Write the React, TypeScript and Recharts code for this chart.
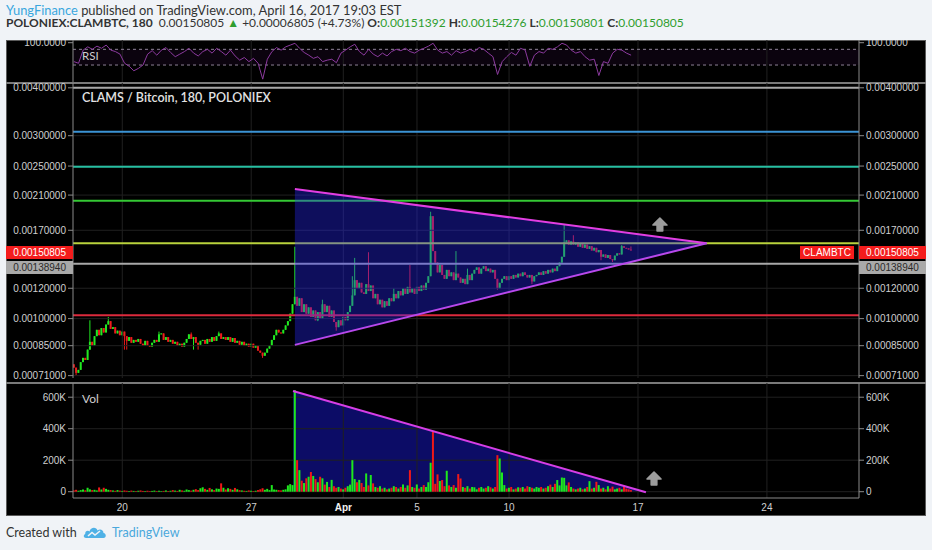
import React from "react";
import {
  ComposedChart,
  Bar,
  Line,
  Area,
  Scatter,
  XAxis,
  YAxis,
  ReferenceLine,
  ReferenceArea,
} from "recharts";

// ---------------- data ----------------
// time unit: day of March 2017 (Apr 1 = 32). 180-minute candles.
const CANDLE_START = 17.375;
const CANDLE_STEP = 0.125;
const FIRST_OPEN = 760; // micro-BTC

// closes in micro-BTC (1e-6 BTC)
const closes = [
  745, 722, 735, 770, 790, 780, 830, 870, 850, 900,
  935, 905, 945, 920, 965, 985, 940, 950, 915, 930,
  905, 925, 900, 875, 895, 865, 880, 870, 885, 860,
  850, 875, 850, 845, 865, 880, 870, 910, 915, 880,
  895, 870, 880, 860, 870, 850, 860, 845, 865, 885,
  910, 885, 895, 865, 855, 875, 880, 860, 885, 870,
  895, 875, 900, 915, 885, 895, 880, 895, 870, 890,
  865, 875, 855, 870, 850, 860, 845, 860, 840, 850,
  825, 815, 800, 815, 835, 850, 880, 905, 935, 920,
  915, 935, 960, 985, 1030, 1090, 1140, 1080, 1130, 1040,
  1090, 1030, 1070, 1010, 1050, 990, 1040, 1000, 1090, 1040,
  1080, 1010, 1050, 980, 950, 990, 960, 1010, 990, 1040,
  1080, 1150, 1260, 1200, 1240, 1170, 1160, 1230, 1180, 1220,
  1130, 1160, 1090, 1120, 1070, 1110, 1080, 1130, 1110, 1160,
  1130, 1180, 1150, 1200, 1160, 1210, 1170, 1200, 1160, 1210,
  1180, 1220, 1190, 1240, 1290, 1850, 1500, 1400, 1320, 1380,
  1300, 1270, 1340, 1290, 1320, 1260, 1310, 1280, 1240, 1270,
  1230, 1300, 1260, 1310, 1340, 1360, 1310, 1350, 1370, 1330,
  1350, 1320, 1340, 1270, 1200, 1240, 1270, 1290, 1260, 1290,
  1270, 1300, 1280, 1310, 1290, 1320, 1300, 1280, 1300, 1250,
  1290, 1300, 1320, 1300, 1330, 1310, 1340, 1320, 1350, 1330,
  1370, 1400, 1450, 1580, 1600, 1560, 1590, 1560, 1580, 1540,
  1570, 1530, 1560, 1520, 1545, 1505, 1530, 1490, 1510, 1450,
  1470, 1440, 1465, 1430, 1420, 1460, 1480, 1470, 1545, 1530,
  1525, 1513.92, 1508.05,
];

// notable wicks (candle index -> micro-BTC)
const wickHighs: Record<number, number> = {
  7: 990, 15: 1010, 37: 925, 51: 920, 63: 925, 96: 1540, 108: 1120, 121: 1290,
  122: 1440, 128: 1490, 139: 1200, 146: 1380, 155: 1900, 166: 1500, 171: 1350,
  213: 1755, 217: 1650, 238: 1555, 242: 1542.76,
};
const wickLows: Record<number, number> = {
  1: 712, 22: 830, 23: 830, 52: 830, 54: 830, 82: 790, 106: 985, 114: 930,
  184: 1190, 199: 1230, 229: 1420, 234: 1405,
};

// volume in thousands
const volumesK = [
  8, 12, 6, 10, 14, 9, 25, 15, 10, 12,
  8, 27, 14, 25, 18, 12, 10, 8, 6, 10,
  7, 5, 8, 6, 4, 7, 5, 3, 6, 8,
  5, 4, 6, 3, 5, 7, 4, 6, 3, 5,
  8, 4, 6, 10, 7, 5, 12, 8, 6, 14,
  10, 7, 12, 16, 10, 22, 28, 18, 12, 24,
  15, 10, 20, 18, 53, 25, 14, 22, 18, 12,
  24, 15, 10, 8, 6, 5, 8, 6, 4, 6,
  10, 15, 22, 12, 18, 10, 42, 14, 12, 10,
  8, 12, 15, 40, 48, 42, 645, 200, 137, 70,
  55, 85, 95, 125, 100, 80, 60, 95, 85, 45,
  62, 30, 75, 35, 25, 30, 20, 15, 25, 35,
  45, 200, 80, 60, 75, 55, 30, 116, 40, 106,
  53, 30, 25, 35, 20, 25, 15, 20, 25, 35,
  30, 20, 30, 46, 25, 40, 137, 30, 25, 46,
  20, 30, 42, 30, 60, 184, 380, 50, 110, 68,
  74, 35, 133, 40, 30, 42, 25, 112, 84, 30,
  25, 35, 20, 30, 28, 15, 25, 30, 20, 25,
  35, 28, 20, 30, 232, 211, 122, 42, 20, 25,
  30, 15, 20, 28, 25, 30, 20, 35, 30, 25,
  20, 30, 25, 30, 20, 25, 35, 45, 30, 50,
  74, 40, 90, 88, 40, 59, 30, 20, 15, 20,
  25, 15, 20, 30, 67, 20, 25, 63, 42, 20,
  25, 15, 35, 20, 32, 15, 20, 25, 15, 38,
  20, 15, 10,
];

// RSI readings, one every two candles
const RSI_START = 17.375;
const RSI_STEP = 0.25;
const rsiValues = [
  36, 33, 67, 80, 70, 83, 74, 88, 67, 62,
  54, 33, 28, 22, 25, 30, 54, 65, 51, 67,
  77, 59, 47, 54, 62, 74, 57, 49, 62, 70,
  57, 74, 62, 51, 67, 49, 39, 45, 36, 43,
  33, 14, 41, 62, 77, 67, 80, 88, 97, 74,
  59, 51, 43, 47, 36, 39, 41, 34, 57, 67,
  80, 92, 62, 51, 70, 54, 47, 57, 49, 62,
  70, 65, 74, 62, 57, 67, 74, 83, 97, 67,
  57, 62, 51, 65, 57, 62, 70, 62, 77, 70,
  57, 47, 18, 36, 47, 59, 51, 74, 67, 28,
  51, 62, 57, 74, 70, 80, 97, 88, 67, 57,
  62, 47, 39, 41, 17, 36, 33, 57, 70, 67,
  57, 51,
];

const priceTicks = [0.004, 0.003, 0.0025, 0.0021, 0.0017, 0.0012, 0.001, 0.00085, 0.00071];
const volTicks = [0, 200000, 400000, 600000];
const rsiTicks = [100];
const rsiBands = [70, 30];
const dayTicks = [20, 27, 32, 36, 41, 48, 55];
const dayLabels = ["20", "27", "Apr", "5", "10", "17", "24"];

// horizontal drawn levels
const levelPrices = [0.004, 0.003073, 0.002489, 0.00203, 0.001572, 0.0013894, 0.00102];
const levelColors = ["#a8a8a8", "#3b93d4", "#27bfa2", "#35c935", "#b9d23c", "#a8a8a8", "#dc2a3c"];

// symmetrical triangle drawing on price pane
const triT = [29.37, 51.73];
const triUpper = [0.002178, 0.001572];
const triLower = [0.000854, 0.001572];
// descending line on volume pane
const volLineT = [29.27, 48.43];
const volLineV = [639000, -4000];
// arrow annotations
const arrowMain = [{ t: 49.19, p: 0.001754 }];
const arrowVol = [{ t: 48.87, v: 80600 }];

const LAST_PRICE = "0.00150805";
const LEVEL_LABEL = "0.00138940";

// header quote pieces
const quoteLast = "0.00150805";
const quoteChange = "+0.00006805 (+4.73%)";
const ohlcKeys = ["O:", "H:", "L:", "C:"];
const ohlcValues = ["0.00151392", "0.00154276", "0.00150801", "0.00150805"];

// ---------------- tables ----------------
const candleRows = closes.map((c, i) => {
  const open = i === 0 ? FIRST_OPEN : closes[i - 1];
  const hi = wickHighs[i] ?? Math.max(open, c);
  const lo = wickLows[i] ?? Math.min(open, c);
  return {
    t: CANDLE_START + i * CANDLE_STEP,
    open: open * 1e-6,
    close: c * 1e-6,
    high: hi * 1e-6,
    low: lo * 1e-6,
    range: [lo * 1e-6, hi * 1e-6],
    vol: volumesK[i] * 1000,
    up: c >= open,
  };
});
const rsiRows = rsiValues.map((r, k) => ({ t: RSI_START + k * RSI_STEP, rsi: r }));
const triRows = triT.map((t, i) => ({
  t,
  band: [triLower[i], triUpper[i]],
  upper: triUpper[i],
  lower: triLower[i],
}));
const volTriRows = volLineT.map((t, i) => ({ t, v: volLineV[i] }));

// ---------------- styles ----------------
const W = 932;
const AXIS_W = 73;
const X_DOMAIN: [number, number] = [17.324, 60];
const PRICE_DOMAIN: [number, number] = [0.0007, 0.004117];
const VOL_DOMAIN: [number, number] = [-40000, 690200];
const RSI_DOMAIN: [number, number] = [12, 115.7];
const GRID = "#202020";
const AXIS = "#8a8a8a";
const CANDLE_UP = "#22e822";
const CANDLE_DOWN = "#ee1c1c";
const VOL_UP = "#1ee81e";
const VOL_DOWN = "#f01818";
const AXIS_FONT = '"Liberation Sans", Arial, sans-serif';
const UI_FONT = 'Lato, "Open Sans", sans-serif';
const axisTick = { fill: "#cfcfcf", fontSize: 10, fontFamily: AXIS_FONT };

const fmtPrice = (v: number) => v.toFixed(8);
const fmtVol = (v: number) => (v === 0 ? "0" : `${v / 1000}K`);
const fmtRsi = (v: number) => v.toFixed(4);

function CandleShape(props: any) {
  const { x, y, width, height, payload } = props;
  if (payload == null || x == null || y == null) return null;
  const cx = x + width / 2;
  const lh = Math.log(payload.high);
  const ll = Math.log(payload.low);
  const span = lh - ll;
  const toY = (v: number) => (span > 0 ? y + (height * (lh - Math.log(v))) / span : y);
  const color = payload.up ? CANDLE_UP : CANDLE_DOWN;
  const top = toY(Math.max(payload.open, payload.close));
  const bottom = toY(Math.min(payload.open, payload.close));
  return (
    <g>
      <line x1={cx} x2={cx} y1={y} y2={y + height} stroke={color} strokeWidth={1} />
      <rect x={cx - 1} y={top} width={2} height={Math.max(1, bottom - top)} fill={color} />
    </g>
  );
}

function VolShape(props: any) {
  const { x, y, width, height, payload } = props;
  if (payload == null || x == null || y == null) return null;
  const cx = x + width / 2;
  return <rect x={cx - 1} y={y} width={2} height={Math.max(0.6, height)} fill={payload.up ? VOL_UP : VOL_DOWN} />;
}

function ArrowShape(props: any) {
  const { cx, cy } = props;
  if (cx == null || cy == null) return null;
  const d = `M${cx},${cy - 7} L${cx + 7},${cy} L${cx + 2.8},${cy} L${cx + 2.8},${cy + 6} L${cx - 2.8},${cy + 6} L${cx - 2.8},${cy} L${cx - 7},${cy} Z`;
  return <path d={d} fill="#9c9c9c" stroke="#9c9c9c" strokeWidth={1.6} strokeLinejoin="round" />;
}

function DayTick(props: any) {
  const { x, y, payload } = props;
  const idx = dayTicks.indexOf(payload.value);
  const label = idx >= 0 ? dayLabels[idx] : "";
  const bold = label === "Apr";
  return (
    <text
      x={x}
      y={y}
      dy="0.71em"
      textAnchor="middle"
      fill={bold ? "#f2f2f2" : "#cfcfcf"}
      fontSize={10}
      fontWeight={bold ? "bold" : "normal"}
      fontFamily={AXIS_FONT}
    >
      {label}
    </text>
  );
}

const abs = (left: number, top: number): React.CSSProperties => ({ position: "absolute", left, top });

function gridLines(yId: string, yTicks: number[]) {
  return [
    ...yTicks.map((v) => <ReferenceLine key={"gy" + v} yAxisId={yId} y={v} stroke={GRID} strokeWidth={1} />),
    ...dayTicks.map((d) => <ReferenceLine key={"gx" + d} yAxisId={yId} x={d} stroke={GRID} strokeWidth={1} />),
  ];
}

function yAxes(props: any) {
  return [
    <YAxis
      key="l"
      yAxisId="l"
      type="number"
      width={AXIS_W}
      allowDataOverflow
      interval={0}
      tick={axisTick}
      tickSize={5}
      tickMargin={2}
      axisLine={{ stroke: AXIS }}
      tickLine={{ stroke: AXIS }}
      {...props}
    />,
    <YAxis
      key="r"
      yAxisId="r"
      orientation="right"
      type="number"
      width={AXIS_W}
      allowDataOverflow
      interval={0}
      tick={axisTick}
      tickSize={5}
      tickMargin={2}
      axisLine={{ stroke: AXIS }}
      tickLine={{ stroke: AXIS }}
      {...props}
    />,
  ];
}

function RsiPane() {
  return (
    <ComposedChart width={W} height={42} data={rsiRows} margin={{ top: 0, right: 0, bottom: 0, left: 0 }}>
      <XAxis dataKey="t" type="number" domain={X_DOMAIN} allowDataOverflow hide />
      {yAxes({ scale: "log", domain: RSI_DOMAIN, ticks: rsiTicks, tickFormatter: fmtRsi })}
      {dayTicks.map((d) => (
        <ReferenceLine key={"rx" + d} yAxisId="l" x={d} stroke={GRID} />
      ))}
      <ReferenceArea yAxisId="l" y1={rsiBands[1]} y2={rsiBands[0]} fill="#7a1fa0" fillOpacity={0.09} stroke="none" />
      {rsiBands.map((b) => (
        <ReferenceLine key={"rb" + b} yAxisId="l" y={b} stroke="#8e8296" strokeDasharray="3 3" />
      ))}
      <Line yAxisId="l" dataKey="rsi" type="linear" stroke="#8b3a9e" strokeWidth={1} dot={false} isAnimationActive={false} />
    </ComposedChart>
  );
}

function PricePane() {
  return (
    <ComposedChart width={W} height={305} data={candleRows} margin={{ top: 5, right: 0, bottom: 5, left: 0 }}>
      <XAxis dataKey="t" type="number" domain={X_DOMAIN} allowDataOverflow hide />
      {yAxes({ scale: "log", domain: PRICE_DOMAIN, ticks: priceTicks, tickFormatter: fmtPrice })}
      {gridLines("l", priceTicks)}
      {levelPrices.map((p, i) => (
        <ReferenceLine key={"lv" + i} yAxisId="l" y={p} stroke={levelColors[i]} strokeWidth={2} />
      ))}
      <Bar yAxisId="l" dataKey="range" shape={<CandleShape />} barSize={2} isAnimationActive={false} />
    </ComposedChart>
  );
}

function PriceOverlay() {
  return (
    <ComposedChart width={W} height={305} data={triRows} margin={{ top: 5, right: AXIS_W, bottom: 5, left: AXIS_W }}>
      <XAxis dataKey="t" type="number" domain={X_DOMAIN} allowDataOverflow hide />
      <YAxis type="number" scale="log" domain={PRICE_DOMAIN} allowDataOverflow hide />
      <Area dataKey="band" type="linear" stroke="none" fill="#2828ff" fillOpacity={0.36} isAnimationActive={false} />
      <Line dataKey="upper" type="linear" stroke="#e23ee2" strokeWidth={2} dot={false} isAnimationActive={false} />
      <Line dataKey="lower" type="linear" stroke="#b848ec" strokeWidth={2} dot={false} isAnimationActive={false} />
      <Scatter data={arrowMain} dataKey="p" shape={<ArrowShape />} isAnimationActive={false} />
    </ComposedChart>
  );
}

function VolUnderlay() {
  return (
    <ComposedChart width={W} height={140} data={volTriRows} margin={{ top: 5, right: AXIS_W, bottom: 20, left: AXIS_W }}>
      <XAxis dataKey="t" type="number" domain={X_DOMAIN} allowDataOverflow hide />
      <YAxis type="number" domain={VOL_DOMAIN} allowDataOverflow hide />
      {volTicks.map((v) => (
        <ReferenceLine key={"vg" + v} y={v} stroke={GRID} />
      ))}
      {dayTicks.map((d) => (
        <ReferenceLine key={"vx" + d} x={d} stroke={GRID} />
      ))}
      <Area dataKey="v" type="linear" baseValue={0} stroke="none" fill="#0c0c66" fillOpacity={1} isAnimationActive={false} />
    </ComposedChart>
  );
}

function VolPane() {
  return (
    <ComposedChart width={W} height={140} data={candleRows} margin={{ top: 5, right: 0, bottom: 0, left: 0 }}>
      <XAxis
        dataKey="t"
        type="number"
        domain={X_DOMAIN}
        allowDataOverflow
        ticks={dayTicks}
        interval={0}
        height={20}
        tick={<DayTick />}
        tickSize={4}
        tickMargin={2}
        tickLine={false}
        axisLine={{ stroke: AXIS }}
      />
      {yAxes({ domain: VOL_DOMAIN, ticks: volTicks, tickFormatter: fmtVol })}
      <Bar yAxisId="l" dataKey="vol" shape={<VolShape />} barSize={2} isAnimationActive={false} />
    </ComposedChart>
  );
}

function VolOverlay() {
  return (
    <ComposedChart width={W} height={140} data={volTriRows} margin={{ top: 5, right: AXIS_W, bottom: 20, left: AXIS_W }}>
      <XAxis dataKey="t" type="number" domain={X_DOMAIN} allowDataOverflow hide />
      <YAxis type="number" domain={VOL_DOMAIN} allowDataOverflow hide />
      <Line dataKey="v" type="linear" stroke="#d63ee6" strokeWidth={2} dot={false} isAnimationActive={false} />
      <Scatter data={arrowVol} dataKey="v" shape={<ArrowShape />} isAnimationActive={false} />
    </ComposedChart>
  );
}

function TvLogo() {
  return (
    <svg width={24} height={14} viewBox="0 0 24 14">
      <path
        d="M3,13 C0.5,13 0,10 2.2,9 C1.8,6 5,4.8 6.5,6.4 C7.5,2 13.5,1.5 14.5,5.5 C16.5,3.5 20.5,4.5 20.5,8 C23.5,8.5 23.5,13 20.5,13 Z"
        fill="#4fb1e6"
      />
      <polyline points="5,11 9,7.5 12,10 17,6" fill="none" stroke="#f0f3f7" strokeWidth={1.6} />
    </svg>
  );
}

const green = "#2f9e2f";

// inline piece of header text with a fixed box height
function Piece(props: { text: string; color?: string; bold?: boolean; h: number; space?: boolean }) {
  return (
    <span
      style={{
        display: "inline-block",
        height: props.h,
        lineHeight: `${props.h}px`,
        verticalAlign: "top",
        color: props.color,
        fontWeight: props.bold ? 700 : 400,
        marginRight: props.space ? "0.25em" : 0,
        whiteSpace: "pre",
      }}
    >
      {props.text}
    </span>
  );
}

export default function App() {
  const box = (left: number, top: number, width: number, bg: string, color: string, align: "left" | "right" | "center", text: string) => (
    <div
      style={{
        ...abs(left, top),
        width,
        height: 13.5,
        background: bg,
        color,
        fontFamily: AXIS_FONT,
        fontSize: 10,
        lineHeight: "13.5px",
        textAlign: align,
        boxSizing: "border-box",
        paddingLeft: align === "left" ? 7 : 0,
        paddingRight: align === "right" ? 7 : 0,
        whiteSpace: "nowrap",
      }}
    >
      {text}
    </div>
  );
  return (
    <div style={{ position: "absolute", left: 0, top: 0, width: 932, height: 550, background: "#f0f3f7", overflow: "hidden" }}>
      {/* header */}
      <div style={{ ...abs(6, 4), height: 12, fontFamily: UI_FONT, fontSize: 12.9, lineHeight: "12px", color: "#333", whiteSpace: "nowrap" }}>
        <Piece text="YungFinance" color="#3aa7de" h={12} space />
        <Piece text="published on TradingView.com, April 16, 2017 19:03 EST" h={12} />
      </div>
      <div style={{ ...abs(6, 16.5), height: 11, fontFamily: UI_FONT, fontSize: 12, lineHeight: "11px", color: "#333", whiteSpace: "nowrap" }}>
        <Piece text="POLONIEX:CLAMBTC, 180" bold h={11} space />
        <Piece text={" " + quoteLast} h={11} space />
        <Piece text="▲" color={green} h={11} space />
        <Piece text={quoteChange} h={11} space />
        {ohlcKeys.map((k, i) => (
          <React.Fragment key={k}>
            <Piece text={k} bold h={11} />
            <Piece text={ohlcValues[i]} color={green} h={11} space />
          </React.Fragment>
        ))}
      </div>

      {/* black chart frame */}
      <div style={{ ...abs(6, 40), width: 920, height: 476, background: "#000", boxSizing: "border-box", border: "1px solid #5a5a5a" }} />

      <div style={abs(0, 40)}>
        <RsiPane />
      </div>
      <div style={{ ...abs(6, 82), width: 920, height: 1.5, background: "#7a7a7a" }} />
      <div style={abs(0, 78)}>
        <PricePane />
      </div>
      <div style={abs(0, 78)}>
        <PriceOverlay />
      </div>
      <div style={{ ...abs(6, 382), width: 920, height: 1.5, background: "#7a7a7a" }} />
      <div style={abs(0, 378)}>
        <VolUnderlay />
      </div>
      <div style={abs(0, 378)}>
        <VolPane />
      </div>
      <div style={abs(0, 378)}>
        <VolOverlay />
      </div>

      {/* pane labels */}
      <div style={{ ...abs(82, 47.5), fontFamily: UI_FONT, fontSize: 11.5, lineHeight: "16px", color: "#cfcfcf" }}>RSI</div>
      <div style={{ ...abs(82, 90), fontFamily: UI_FONT, fontSize: 12.5, fontWeight: 600, lineHeight: "16px", color: "#e2e2e2", whiteSpace: "nowrap" }}>
        CLAMS / Bitcoin, 180, POLONIEX
      </div>
      <div style={{ ...abs(82, 391), fontFamily: UI_FONT, fontSize: 12, lineHeight: "16px", color: "#cfcfcf" }}>Vol</div>

      {/* price labels */}
      {box(6, 245.5, 67, "#f41c1c", "#fff", "right", LAST_PRICE)}
      {box(859, 245.5, 67, "#f41c1c", "#fff", "left", LAST_PRICE)}
      {box(800, 245.5, 54, "#f41c1c", "#fff", "center", "CLAMBTC")}
      {box(6, 260.5, 67, "#a9a9a9", "#2a2a2a", "right", LEVEL_LABEL)}
      {box(859, 260.5, 67, "#a9a9a9", "#2a2a2a", "left", LEVEL_LABEL)}

      {/* footer */}
      <div style={{ ...abs(6, 525), fontFamily: UI_FONT, fontSize: 12.5, lineHeight: "16px", color: "#333", whiteSpace: "nowrap" }}>Created with</div>
      <div style={abs(83, 525)}>
        <TvLogo />
      </div>
      <div style={{ ...abs(112, 525), fontFamily: UI_FONT, fontSize: 12.5, lineHeight: "16px", color: "#4aa8dc", whiteSpace: "nowrap" }}>TradingView</div>
    </div>
  );
}
